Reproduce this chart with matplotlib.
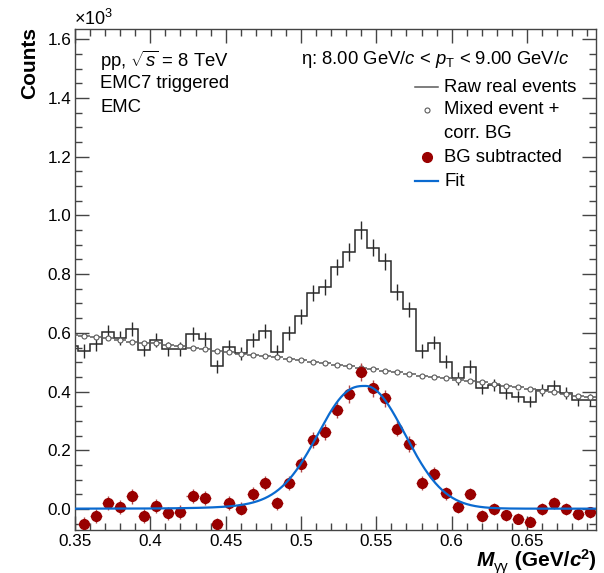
import numpy as np
import matplotlib
matplotlib.use("Agg")
import matplotlib.pyplot as plt
from matplotlib.ticker import MultipleLocator, FuncFormatter
from matplotlib.lines import Line2D

plt.rcParams['font.family'] = ['Liberation Sans', 'DejaVu Sans']
plt.rcParams['mathtext.fontset'] = 'custom'
plt.rcParams['mathtext.rm'] = 'Liberation Sans'
plt.rcParams['mathtext.it'] = 'Liberation Sans:italic'
plt.rcParams['mathtext.bf'] = 'Liberation Sans:bold:italic'
plt.rcParams['mathtext.sf'] = 'Liberation Sans:bold'

# ---------------- data (counts in units of 10^3) ----------------
bin_width = 0.008
# raw real events / mixed event BG: bins centred 0.348 ... 0.692
raw_centers = np.round(0.348 + bin_width * np.arange(44), 3)
raw_counts = [0.556, 0.538, 0.561, 0.602, 0.583, 0.613, 0.543, 0.574, 0.545, 0.544,
              0.595, 0.580, 0.486, 0.553, 0.530, 0.575, 0.606, 0.535, 0.599, 0.657,
              0.735, 0.757, 0.824, 0.875, 0.951, 0.890, 0.843, 0.738, 0.680, 0.539,
              0.567, 0.502, 0.445, 0.485, 0.411, 0.422, 0.394, 0.383, 0.366, 0.405,
              0.419, 0.394, 0.371, 0.371]
mixed_bg = [0.594, 0.590, 0.586, 0.581, 0.576, 0.570, 0.567, 0.564, 0.560, 0.555,
            0.550, 0.544, 0.538, 0.534, 0.529, 0.525, 0.520, 0.516, 0.511, 0.506,
            0.501, 0.496, 0.490, 0.486, 0.481, 0.476, 0.469, 0.465, 0.460, 0.454,
            0.448, 0.446, 0.440, 0.435, 0.432, 0.424, 0.419, 0.414, 0.407, 0.402,
            0.397, 0.391, 0.385, 0.380]
# BG subtracted: bins centred 0.356 ... 0.692
sub_centers = raw_centers[1:]
bg_subtracted = [-0.052, -0.025, 0.021, 0.007, 0.043, -0.024, 0.010, -0.015, -0.011, 0.045,
                 0.036, -0.052, 0.019, 0.001, 0.050, 0.088, 0.019, 0.088, 0.153, 0.235,
                 0.261, 0.337, 0.392, 0.467, 0.411, 0.377, 0.274, 0.221, 0.088, 0.119,
                 0.053, 0.008, 0.051, -0.023, 0.001, -0.022, -0.033, -0.043, 0.001, 0.021,
                 -0.001, -0.017, -0.011]
# fit parameters (Gaussian with low-mass exponential tail)
FIT_AMP = 0.418
FIT_MEAN = 0.5428
FIT_SIGMA = 0.0262
FIT_LAMBDA = 0.022
FIT_BASE = 0.001

x_ticks = [0.35, 0.4, 0.45, 0.5, 0.55, 0.6, 0.65]

# ---------------- derived ----------------
raw_counts = np.array(raw_counts)
mixed_bg = np.array(mixed_bg)
bg_subtracted = np.array(bg_subtracted)
edges = np.round(np.append(raw_centers - bin_width / 2, raw_centers[-1] + bin_width / 2), 3)
raw_err = np.sqrt(raw_counts * 1000.0) / 1000.0
sub_err = raw_err[1:]


def fit_func(x):
    dx = x - FIT_MEAN
    g = np.exp(-0.5 * (dx / FIT_SIGMA) ** 2)
    tail = np.where(dx < 0, (1 - g) * np.exp(np.minimum(dx, 0) / FIT_LAMBDA), 0.0)
    return FIT_AMP * (g + tail) + FIT_BASE


W, H = 604, 573
fig = plt.figure(figsize=(W / 100, H / 100), dpi=100)
ax = fig.add_axes([75 / W, 1 - 529.5 / H, (596.3 - 75) / W, (529.5 - 29) / H])

raw_col = '#2a2a2a'
mix_col = '#5a5a5a'
red_col = '#990000'
fit_col = '#0a6ad0'

ax.stairs(raw_counts, edges, baseline=None, color=raw_col, lw=1.1)
ax.errorbar(raw_centers, raw_counts, yerr=raw_err, fmt='none', ecolor=raw_col, elinewidth=1.0)

ax.errorbar(raw_centers, mixed_bg, xerr=bin_width / 2, fmt='o', ms=3.6, mfc='white',
            mec=mix_col, mew=0.8, ecolor=mix_col, elinewidth=1.1, zorder=3)

ax.errorbar(sub_centers, bg_subtracted, xerr=bin_width / 2, yerr=sub_err, fmt='o', ms=7.0,
            mfc=red_col, mec=red_col, ecolor='#b04848', elinewidth=1.0, zorder=4)

xf = np.linspace(0.35, 0.696, 600)
ax.plot(xf, fit_func(xf), color=fit_col, lw=1.6, zorder=5)

ax.set_xlim(0.35, 0.696)
ax.set_ylim(-0.07, 1.635)
ax.set_xticks(x_ticks)
ax.xaxis.set_major_formatter(FuncFormatter(lambda v, p: f"{v:g}"))
ax.xaxis.set_minor_locator(MultipleLocator(0.01))
ax.yaxis.set_major_locator(MultipleLocator(0.2))
ax.yaxis.set_major_formatter(FuncFormatter(lambda v, p: f"{v:.1f}"))
ax.yaxis.set_minor_locator(MultipleLocator(0.05))
ax.tick_params(which='both', direction='in', top=True, right=True, colors='#444444',
               labelcolor='black', labelsize=12.3)
ax.tick_params(which='major', length=10, width=1.0)
ax.tick_params(which='minor', length=5, width=1.0)
ax.tick_params(axis='y', pad=2.5)
ax.tick_params(axis='x', pad=3.5)
for s in ax.spines.values():
    s.set_color('#444444')
    s.set_linewidth(1.0)

# y title
fig.text(30 / W, 1 - 27 / H, 'Counts', rotation=90, ha='center', va='top',
         fontsize=15, fontweight='bold')

# x title built from plain-text pieces: M_γγ (GeV/c^2)
renderer = fig.canvas.get_renderer()
base_px = 566.5
pieces = [("M", 15, 'bold', 'italic', 0.0),
          ("γγ", 10.5, 'normal', 'normal', -4.5),
          (" (GeV/", 15, 'bold', 'normal', 0.0),
          ("c", 15, 'bold', 'italic', 0.0),
          ("2", 10.5, 'bold', 'normal', 7.5),
          (")", 15, 'bold', 'normal', 0.0)]
xl_texts, xl_widths = [], []
for s, size, wt, st, dy in pieces:
    t = fig.text(0, 1 - (base_px - dy) / H, s, fontsize=size, fontweight=wt,
                 fontstyle=st, ha='left', va='baseline')
    xl_texts.append(t)
    xl_widths.append(t.get_window_extent(renderer).width)
xpos = 596.0 - sum(xl_widths)
for t, wd in zip(xl_texts, xl_widths):
    t.set_x(xpos / W)
    xpos += wd

fig.text(74 / W, 1 - 25 / H, r'×10$^{3}$', ha='left', va='baseline', fontsize=13)

# annotations
fs = 13.3
fig.text(100 / W, 1 - 61 / H, r'pp, $\sqrt{s}$ = 8 TeV', ha='left', va='center', fontsize=fs)
fig.text(100 / W, 1 - 84 / H, 'EMC7 triggered', ha='left', va='center', fontsize=fs)
fig.text(100 / W, 1 - 107 / H, 'EMC', ha='left', va='center', fontsize=fs)
fig.text(569 / W, 1 - 60 / H, r'η: 8.00 GeV/$c$ < $p_{\mathrm{T}}$ < 9.00 GeV/$c$',
         ha='right', va='center', fontsize=fs)

# legend (manual)
lx_text = 444 / W
fig.text(lx_text, 1 - 87 / H, 'Raw real events', ha='left', va='center', fontsize=fs)
fig.text(lx_text, 1 - 110 / H, 'Mixed event +', ha='left', va='center', fontsize=fs)
fig.text(lx_text, 1 - 133 / H, 'corr. BG', ha='left', va='center', fontsize=fs)
fig.text(lx_text, 1 - 157 / H, 'BG subtracted', ha='left', va='center', fontsize=fs)
fig.text(lx_text, 1 - 181 / H, 'Fit', ha='left', va='center', fontsize=fs)
x0, x1, xm = 415 / W, 438 / W, 426.5 / W
fig.add_artist(Line2D([x0, x1], [1 - 87 / H] * 2, color=mix_col, lw=1.1))
fig.add_artist(Line2D([xm], [1 - 110 / H], marker='o', ms=3.6, mfc='white', mec=mix_col, mew=0.8))
fig.add_artist(Line2D([xm], [1 - 157 / H], marker='o', ms=7.0, mfc=red_col, mec=red_col))
fig.add_artist(Line2D([x0, x1], [1 - 181 / H] * 2, color=fit_col, lw=1.6))

fig.savefig('out.png', dpi=100)
